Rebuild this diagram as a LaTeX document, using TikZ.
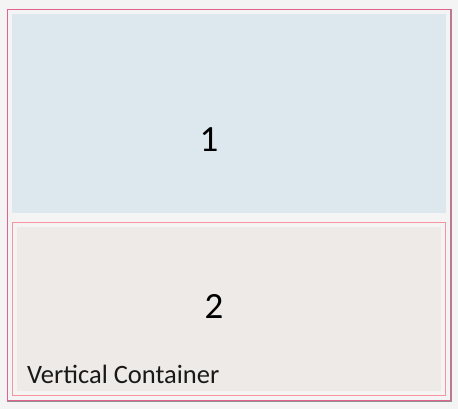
\documentclass[tikz,border=0pt]{standalone}
\usepackage{fontspec}
\setmainfont{Carlito}
\definecolor{bgc}{HTML}{F4F4F4}
\definecolor{outergrey}{HTML}{909090}
\definecolor{outerpink}{HTML}{E0628E}
\definecolor{innerpink}{HTML}{F7949F}
\definecolor{bluefill}{HTML}{DCE8EE}
\definecolor{beigefill}{HTML}{EEEAE7}
\tikzset{
  outerline/.style={draw=outergrey, line width=0.6pt},
  outerbox/.style={draw=outerpink, line width=1pt},
  innerbox/.style={draw=innerpink, line width=1pt},
  bignum/.style={font=\fontsize{37}{40}\selectfont, text=black, inner sep=0pt},
  caption/.style={font=\fontsize{26.5}{30}\selectfont, text=black!90, inner sep=0pt, anchor=base west},
}
\begin{document}
\begin{tikzpicture}[x=1pt,y=-1pt]
\fill[bgc] (0,0) rectangle (458,409);
\useasboundingbox (0,0) rectangle (458,409);
\draw[outerline] (7,9) rectangle (451,401.5);
\draw[outerbox] (7.8,9.8) coordinate (o1) rectangle (450.2,400.7) coordinate (o2);
\fill[bluefill] (12,14) rectangle (446,213);
\node[bignum] (n1) at (209,139.5) {1};
\draw[innerbox] (12.5,222.5) rectangle (445,395.5);
\fill[beigefill] (17,227) rectangle (441,391);
\node[bignum] (n2) at (214,306.5) {2};
\node[caption] (cap) at (27,383.5) {Vertical Container};
\end{tikzpicture}
\end{document}
